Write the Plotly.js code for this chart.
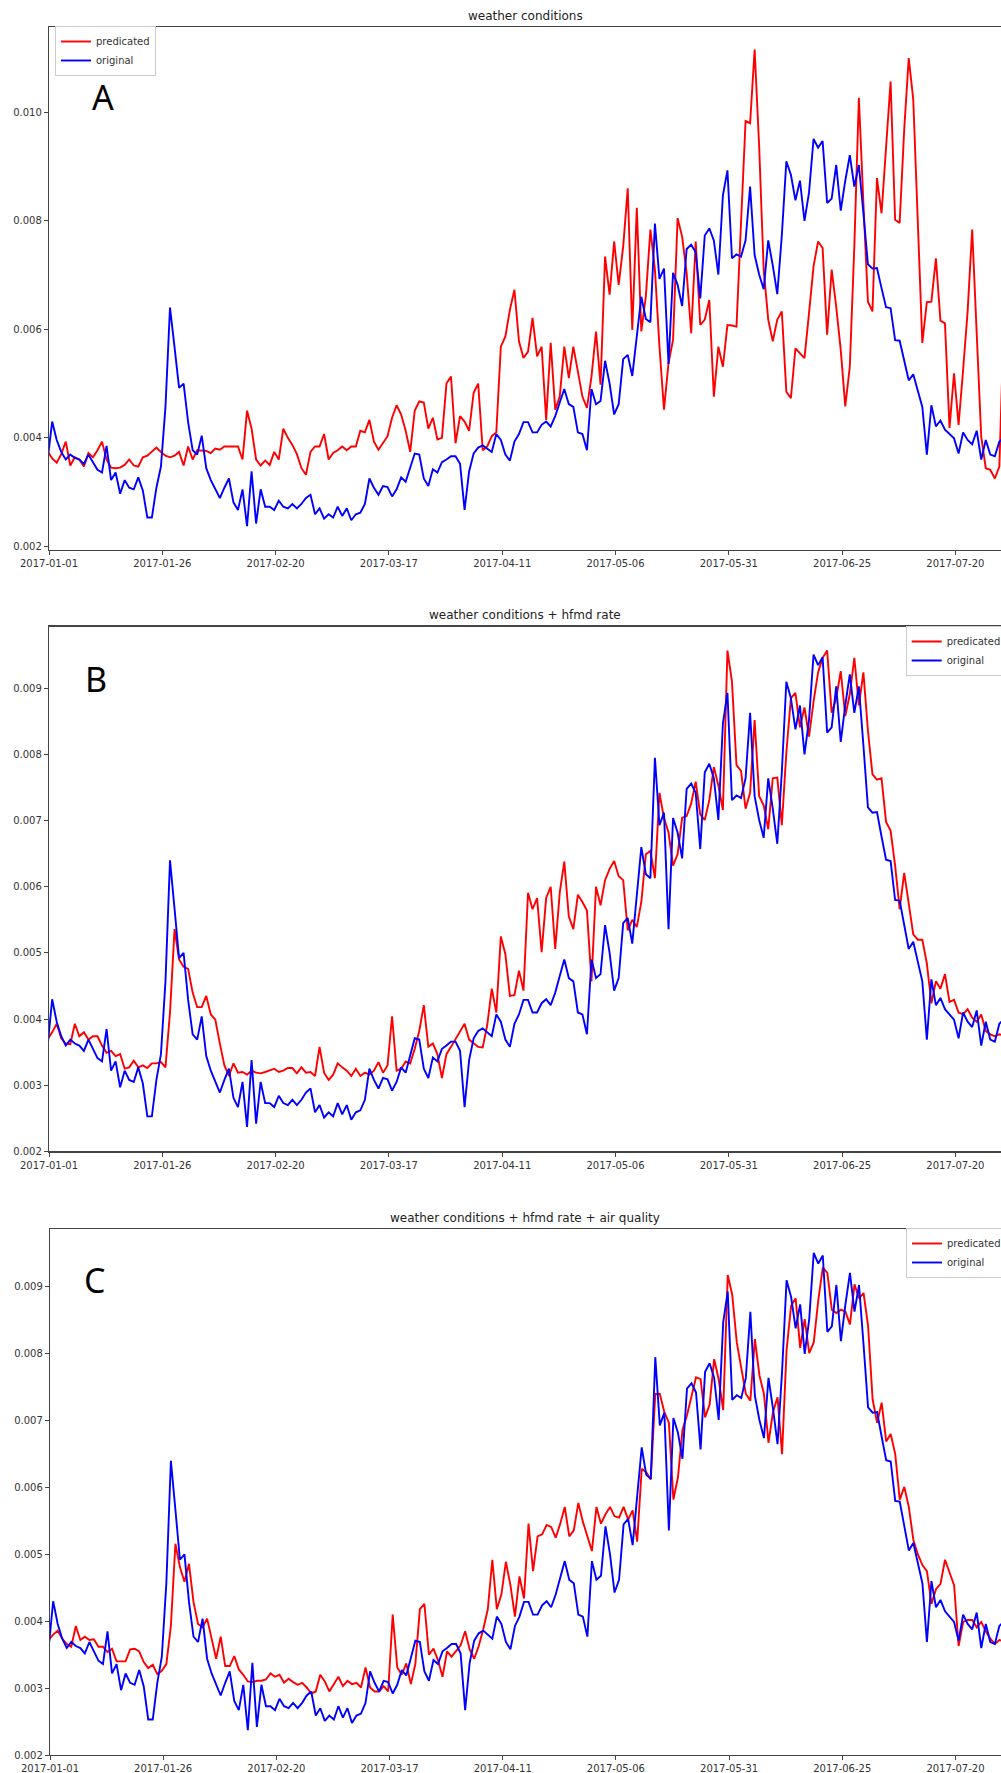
<!DOCTYPE html>
<html>
<head>
<meta charset="utf-8">
<script src="https://cdn.plot.ly/plotly-3.0.1.min.js"></script>
<style>html,body{margin:0;padding:0;background:#fff;}#chart{width:1001px;height:1773px;}</style>
</head>
<body>
<div id="chart"></div>
<script>
// Daily series, one value per day (first sample just before 2017-01-01, clipped by the axis)
const startDate = '2016-12-31T16:48:00Z';
const seriesNames = ['predicated', 'original'];
const panelTitles = ['weather conditions', 'weather conditions + hfmd rate', 'weather conditions + hfmd rate + air quality'];
const panelLetters = ['A', 'B', 'C'];
const xTickStart = '2017-01-01';
const xEnd = '2017-07-30 01:30';

const original = [
0.0036,0.0043,0.00396,0.00374,0.0036,0.00369,0.00363,0.0036,0.00352,0.00369,
0.00355,0.00341,0.00336,0.00385,0.00322,0.00336,0.00297,0.00322,0.00308,0.00305,
0.00327,0.00303,0.00253,0.00253,0.00308,0.00347,0.00457,0.0064,0.00567,0.00492,
0.005,0.00429,0.00377,0.00369,0.00404,0.00344,0.00322,0.00305,0.00289,0.00308,
0.00325,0.00281,0.00267,0.00305,0.00237,0.00338,0.00242,0.00305,0.00273,0.00273,
0.00267,0.00284,0.00273,0.0027,0.00278,0.0027,0.00278,0.00289,0.00295,0.00259,
0.0027,0.00251,0.00259,0.00253,0.00273,0.00256,0.0027,0.00248,0.00259,0.00262,
0.00278,0.00325,0.00308,0.00295,0.00311,0.00309,0.00292,0.00305,0.00327,0.00319,
0.00347,0.00371,0.00369,0.00325,0.00311,0.00342,0.00336,0.00355,0.0036,0.00366,
0.00366,0.00352,0.00267,0.00338,0.00371,0.00382,0.00386,0.0038,0.00374,0.00407,
0.00396,0.00369,0.00358,0.00393,0.00407,0.00429,0.00429,0.0041,0.0041,0.00424,
0.0043,0.00421,0.0044,0.00465,0.0049,0.00462,0.00457,0.0041,0.00407,0.00377,
0.0049,0.00462,0.00468,0.00542,0.005,0.00443,0.00462,0.00545,0.00553,0.00514,
0.00583,0.0066,0.00619,0.00613,0.00795,0.00693,0.00712,0.00536,0.00704,0.00682,
0.00643,0.00748,0.00756,0.00742,0.00657,0.00773,0.00786,0.00764,0.00701,0.00847,
0.00893,0.00731,0.00738,0.00734,0.00764,0.00863,0.00737,0.00701,0.00674,0.00764,
0.00718,0.00665,0.00773,0.0091,0.00885,0.00838,0.00874,0.008,0.00852,0.00951,
0.00935,0.00947,0.00833,0.00841,0.00903,0.00819,0.00874,0.00921,0.00863,0.00903,
0.00814,0.0072,0.00712,0.00713,0.00676,0.00641,0.00639,0.0058,0.00579,0.00545,
0.00506,0.00517,0.00487,0.00457,0.00369,0.0046,0.00421,0.00432,0.00415,0.00407,
0.00399,0.00371,0.0041,0.00396,0.00388,0.00413,0.0036,0.00396,0.00369,0.00366,
0.00393,0.004];

const predWeather = [
0.00375,0.00362,0.00354,0.0037,0.00393,0.00349,0.00364,0.0036,0.00347,0.00372,
0.00364,0.00377,0.00393,0.0036,0.00345,0.00344,0.00345,0.0035,0.0036,0.00349,
0.00347,0.00364,0.00367,0.00374,0.00382,0.00374,0.00367,0.00364,0.00367,0.00374,
0.00349,0.00384,0.0036,0.00377,0.00377,0.00376,0.00372,0.0038,0.00378,0.00384,
0.00384,0.00384,0.00384,0.0036,0.0045,0.00417,0.0036,0.00349,0.00358,0.0035,
0.00374,0.0036,0.00417,0.004,0.00387,0.0037,0.00344,0.00332,0.00374,0.00384,
0.00384,0.00407,0.0036,0.00372,0.00377,0.00384,0.00377,0.00384,0.00384,0.00413,
0.0041,0.00433,0.00393,0.00378,0.0039,0.00403,0.00437,0.0046,0.00443,0.00413,
0.00374,0.0045,0.00467,0.00465,0.00417,0.00437,0.00397,0.004,0.005,0.00513,
0.0039,0.0044,0.0043,0.00413,0.00483,0.005,0.00377,0.00384,0.00403,0.0041,
0.00568,0.00587,0.00636,0.00673,0.00578,0.00547,0.00559,0.00621,0.0055,0.00568,
0.00433,0.00575,0.00452,0.00476,0.00568,0.0051,0.00568,0.00525,0.00476,0.00455,
0.00513,0.00596,0.00498,0.00734,0.00664,0.00762,0.00682,0.00753,0.0086,0.00599,
0.00824,0.00596,0.00661,0.00784,0.0071,0.00568,0.00452,0.00538,0.00581,0.00805,
0.00771,0.00704,0.00593,0.00762,0.00608,0.00618,0.00654,0.00476,0.00568,0.00531,
0.00608,0.00607,0.00605,0.00796,0.00984,0.0098,0.01116,0.00937,0.0071,0.00618,
0.00578,0.00618,0.00633,0.00485,0.00473,0.00565,0.00556,0.00547,0.0063,0.00716,
0.00762,0.0075,0.0059,0.0071,0.00642,0.00562,0.00458,0.00531,0.00753,0.01027,
0.00833,0.00651,0.00633,0.00879,0.00814,0.00937,0.01057,0.00802,0.00796,0.00968,
0.011,0.01024,0.00802,0.00575,0.0065,0.00651,0.00731,0.00616,0.00611,0.00418,
0.00519,0.00424,0.00525,0.00633,0.00784,0.00599,0.00402,0.00344,0.00341,0.00325,
0.00347,0.0062];

const predHfmd = [
0.0037,0.0038,0.00393,0.00371,0.00363,0.00362,0.00393,0.00374,0.0038,0.00369,
0.00374,0.00374,0.0036,0.00349,0.00352,0.00344,0.00347,0.00325,0.00327,0.00337,
0.00327,0.0033,0.00326,0.00333,0.00333,0.00335,0.00327,0.0041,0.00536,0.0049,
0.00479,0.00476,0.0044,0.00418,0.00418,0.00435,0.00407,0.00399,0.00363,0.0033,
0.00314,0.00333,0.00319,0.0032,0.00316,0.00322,0.00319,0.00318,0.0032,0.00322,
0.00325,0.0032,0.00322,0.00326,0.00326,0.00318,0.00327,0.00319,0.0032,0.00314,
0.00358,0.00319,0.00308,0.00316,0.00333,0.00327,0.00322,0.00314,0.00325,0.00314,
0.00319,0.00316,0.00322,0.00335,0.00319,0.0033,0.00404,0.00322,0.00325,0.00336,
0.00333,0.00355,0.00382,0.00421,0.00358,0.00363,0.00347,0.00311,0.00347,0.00358,
0.00369,0.0038,0.00393,0.00369,0.00363,0.00358,0.00357,0.00391,0.00446,0.0041,
0.00525,0.00498,0.00435,0.00436,0.00473,0.00443,0.00591,0.00566,0.00583,0.00501,
0.00583,0.006,0.00506,0.00591,0.00638,0.00555,0.00536,0.00588,0.00577,0.00564,
0.00457,0.006,0.00572,0.0061,0.00627,0.00639,0.00616,0.0061,0.00534,0.0055,
0.00539,0.00577,0.00649,0.00654,0.00613,0.00742,0.00704,0.00682,0.00632,0.00649,
0.00704,0.00707,0.00726,0.00759,0.00709,0.00701,0.00731,0.00781,0.00753,0.00716,
0.00957,0.0091,0.00784,0.00775,0.00718,0.00742,0.00852,0.00737,0.00723,0.00687,
0.00764,0.00765,0.00693,0.00803,0.00885,0.00893,0.00841,0.00871,0.00827,0.0088,
0.00924,0.00946,0.00957,0.00863,0.00885,0.00926,0.00858,0.00891,0.00946,0.00874,
0.00924,0.00836,0.0077,0.00762,0.00764,0.00698,0.00685,0.00632,0.00566,0.00621,
0.00575,0.00528,0.0052,0.0052,0.00484,0.00424,0.00457,0.00446,0.00468,0.00426,
0.00429,0.0041,0.00407,0.00415,0.00402,0.00396,0.00407,0.00382,0.00377,0.00374,
0.00377,0.00375];

const predAir = [
0.00372,0.0038,0.00386,0.00374,0.00366,0.00362,0.00393,0.00372,0.00377,0.00372,
0.00373,0.00362,0.00362,0.00354,0.00359,0.0034,0.0034,0.0034,0.00358,0.00359,
0.00355,0.00339,0.0033,0.00335,0.00321,0.00326,0.00336,0.00393,0.00516,0.00481,
0.00459,0.00486,0.00429,0.00396,0.00391,0.00404,0.00374,0.00344,0.00377,0.00333,
0.00333,0.00348,0.00328,0.0032,0.0031,0.00309,0.00311,0.00311,0.00313,0.00322,
0.00317,0.0032,0.00308,0.00314,0.00309,0.00305,0.00308,0.00301,0.00292,0.00295,
0.0032,0.0031,0.00295,0.00306,0.00317,0.00303,0.00311,0.00306,0.00308,0.00301,
0.00331,0.00301,0.00295,0.00295,0.00303,0.00295,0.0041,0.00331,0.0032,0.00337,
0.00306,0.00336,0.00418,0.00426,0.0035,0.00359,0.00342,0.00317,0.00355,0.00347,
0.00355,0.00364,0.00385,0.00358,0.00344,0.00363,0.00388,0.00418,0.00492,0.00418,
0.0044,0.00489,0.00454,0.00407,0.00467,0.00434,0.00546,0.00475,0.00527,0.0053,
0.00544,0.00541,0.00525,0.00546,0.00571,0.00527,0.00536,0.00577,0.00549,0.00527,
0.00505,0.00571,0.00546,0.0056,0.00571,0.00557,0.00555,0.00571,0.00552,0.00566,
0.00519,0.00628,0.00623,0.00612,0.0074,0.0074,0.00713,0.00697,0.00582,0.00615,
0.00686,0.00708,0.00735,0.00765,0.00762,0.00705,0.00724,0.00792,0.00762,0.00716,
0.00918,0.00888,0.00817,0.00779,0.0074,0.0073,0.00822,0.00768,0.0074,0.00667,
0.00713,0.00735,0.0065,0.00806,0.00872,0.00883,0.00809,0.00852,0.00801,0.00817,
0.0088,0.00929,0.00921,0.00866,0.00861,0.00866,0.00863,0.00844,0.00904,0.00883,
0.00891,0.00842,0.00732,0.00697,0.00727,0.00669,0.0068,0.0065,0.00582,0.00601,
0.00571,0.00522,0.005,0.00484,0.00475,0.00426,0.00448,0.00456,0.00492,0.00473,
0.00454,0.00363,0.00399,0.00402,0.00402,0.00391,0.00399,0.00385,0.00374,0.00366,
0.00372,0.0037];

const predicted = [predWeather, predHfmd, predAir];

// ---------- build ----------
const W = 1001, H = 1773;
const t0 = Date.parse(startDate);
const dates = original.map((_, i) => new Date(t0 + i * 864e5).toISOString().slice(0, 16).replace('T', ' '));

const RED = '#ff0000', BLUE = '#0000ff';
const legendNames = ['legend', 'legend2', 'legend3'];
const traces = [];
for (let p = 0; p < 3; p++) {
  const ax = p === 0 ? '' : String(p + 1);
  traces.push({x: dates, y: predicted[p], type: 'scatter', mode: 'lines', name: seriesNames[0],
    xaxis: 'x' + ax, yaxis: 'y' + ax, legend: legendNames[p], line: {color: RED, width: 1.9}});
  traces.push({x: dates, y: original, type: 'scatter', mode: 'lines', name: seriesNames[1],
    xaxis: 'x' + ax, yaxis: 'y' + ax, legend: legendNames[p], line: {color: BLUE, width: 1.9}});
}

function yd(top, bottom) { return [1 - bottom / H, 1 - top / H]; }
const axColor = '#444';
const xCommon = {
  type: 'date', range: [xTickStart, xEnd], tick0: xTickStart, dtick: 25 * 864e5, tickformat: '%Y-%m-%d',
  ticks: 'outside', ticklen: 4, tickwidth: 1, tickcolor: axColor, showline: true, linecolor: axColor, linewidth: 1.2,
  mirror: true, showgrid: false, zeroline: false, automargin: false, tickfont: {size: 10, color: '#333'}
};
const yCommon = {
  ticks: 'outside', ticklen: 4, tickwidth: 1, tickcolor: axColor, showline: true, linecolor: axColor, linewidth: 1.2,
  mirror: false, showgrid: false, zeroline: false, automargin: false, tickformat: '.3f', tickfont: {size: 10, color: '#333'}
};
const panels = [
  {top: 27, bottom: 550.2, range: [0.001928, 0.011574], dtick: 0.002, left: 49, titleY: 16.2, legX: 55, legY: 26, letter: [102.5, 97]},
  {top: 626.5, bottom: 1151.4, range: [0.002, 0.009934], dtick: 0.001, left: 49, titleY: 615.3, legX: 905.7, legY: 626, letter: [96, 679]},
  {top: 1229.2, bottom: 1755, range: [0.002, 0.009864], dtick: 0.001, left: 50, titleY: 1217.5, legX: 906, legY: 1228, letter: [95, 1280]}
];

const layout = {
  width: W, height: H, margin: {l: 0, r: 0, t: 0, b: 0, autoexpand: false},
  paper_bgcolor: '#ffffff', plot_bgcolor: '#ffffff', showlegend: true, hovermode: false,
  font: {family: 'DejaVu Sans', size: 10, color: '#333'},
  annotations: []
};
panels.forEach((pn, p) => {
  const ax = p === 0 ? '' : String(p + 1);
  layout['xaxis' + ax] = Object.assign({}, xCommon, {domain: [pn.left / W, 1], anchor: 'y' + ax});
  layout['yaxis' + ax] = Object.assign({}, yCommon, {domain: yd(pn.top, pn.bottom), anchor: 'x' + ax, range: pn.range, tick0: 0.002, dtick: pn.dtick});
  layout[legendNames[p]] = {
    x: pn.legX / W, y: 1 - pn.legY / H, xanchor: 'left', yanchor: 'top', xref: 'paper', yref: 'paper',
    bgcolor: 'rgba(255,255,255,0.85)', bordercolor: '#cccccc', borderwidth: 1,
    font: {size: 10, color: '#333'}, itemwidth: 30, tracegroupgap: 0, traceorder: 'normal'
  };
  layout.annotations.push({
    text: panelTitles[p], xref: 'paper', yref: 'paper', x: 525 / W, y: 1 - pn.titleY / H,
    xanchor: 'center', yanchor: 'middle', showarrow: false, font: {size: 12, color: '#222'}
  });
  layout.annotations.push({
    text: panelLetters[p], xref: 'paper', yref: 'paper', x: pn.letter[0] / W, y: 1 - pn.letter[1] / H,
    xanchor: 'center', yanchor: 'middle', showarrow: false, font: {family: 'Noto Sans', size: 34, color: '#000'}
  });
});

Plotly.newPlot('chart', traces, layout, {staticPlot: true, displayModeBar: false});
</script>
</body>
</html>
